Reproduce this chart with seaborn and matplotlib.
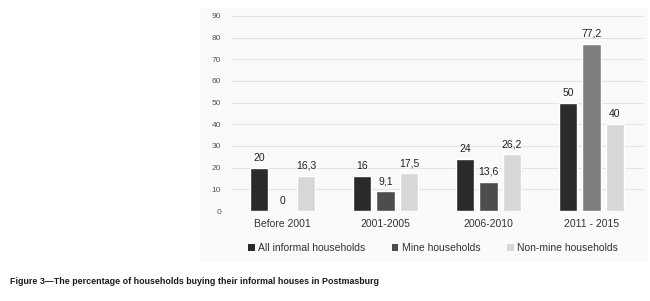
import pandas as pd
import seaborn as sns
import matplotlib.pyplot as plt
from matplotlib.patches import Rectangle

# data
periods = ["Before 2001", "2001-2005", "2006-2010", "2011 - 2015"]
all_informal = [20, 16, 24, 50]
mine = [0, 9.1, 13.6, 77.2]
non_mine = [16.3, 17.5, 26.2, 40]
series = ["All informal households", "Mine households", "Non-mine households"]

df = pd.DataFrame({
    "period": periods * 3,
    "group": [series[0]] * 4 + [series[1]] * 4 + [series[2]] * 4,
    "value": all_informal + mine + non_mine,
})

sns.set_style("white")
plt.rcParams["font.family"] = ["Liberation Sans", "DejaVu Sans"]

colors = ["#2b2a2a", "#4d4d4f", "#d6d7d8"]

fig = plt.figure(figsize=(6.5, 3.01), dpi=100)
# light panel behind the chart
bg = fig.add_axes([200 / 650, 1 - 262 / 301, 448 / 650, 254 / 301], zorder=-10)
bg.set_facecolor("#fafafa")
bg.set_xticks([])
bg.set_yticks([])
for s in bg.spines.values():
    s.set_visible(False)

ax = fig.add_axes([231 / 650, 90 / 301, 412 / 650, 195 / 301])
ax.set_facecolor("none")

sns.barplot(data=df, x="period", y="value", hue="group", palette=colors,
            width=0.68, gap=0.22, ax=ax, legend=False, zorder=3)

# the tall mine bar is a lighter grey in the original
for p in ax.patches:
    if abs(p.get_height() - 77.2) < 1e-6:
        p.set_facecolor("#7d8082")

for cont, vals in zip(ax.containers, [all_informal, mine, non_mine]):
    labels = [f"{v:g}".replace(".", ",") for v in vals]
    ax.bar_label(cont, labels=labels, padding=3.5, fontsize=7.5, color="#222222")

ax.set_ylim(0, 90)
ax.set_yticks(range(0, 91, 10))
ax.set_xlim(-0.5, 3.5)
ax.grid(axis="y", color="#e4e4e4", linewidth=0.8, zorder=0)
ax.set_axisbelow(True)
sns.despine(ax=ax, left=True, bottom=True)
ax.tick_params(axis="y", length=0, pad=7, labelsize=6, labelcolor="#555555")
ax.tick_params(axis="x", length=0, pad=6, labelsize=7.5, labelcolor="#333333")
ax.set_xlabel("")
ax.set_ylabel("")

handles = [Rectangle((0, 0), 1, 1, facecolor=c, edgecolor="none") for c in colors]
fig.legend(handles, series, loc="center", bbox_to_anchor=(433 / 650, 1 - 248 / 301),
           ncol=3, frameon=False, fontsize=7.5, handlelength=0.6, handleheight=0.6,
           handletextpad=0.3, columnspacing=2.6, labelcolor="#333333")

fig.text(10 / 650, 1 - 282 / 301,
         "Figure 3\u2014The percentage of households buying their informal houses in Postmasburg",
         fontsize=6.4, fontweight="bold", va="center", ha="left", color="#1a1a1a",
         family=["Liberation Sans Narrow", "Liberation Sans", "DejaVu Sans"])

fig.savefig("out.png", dpi=100)
